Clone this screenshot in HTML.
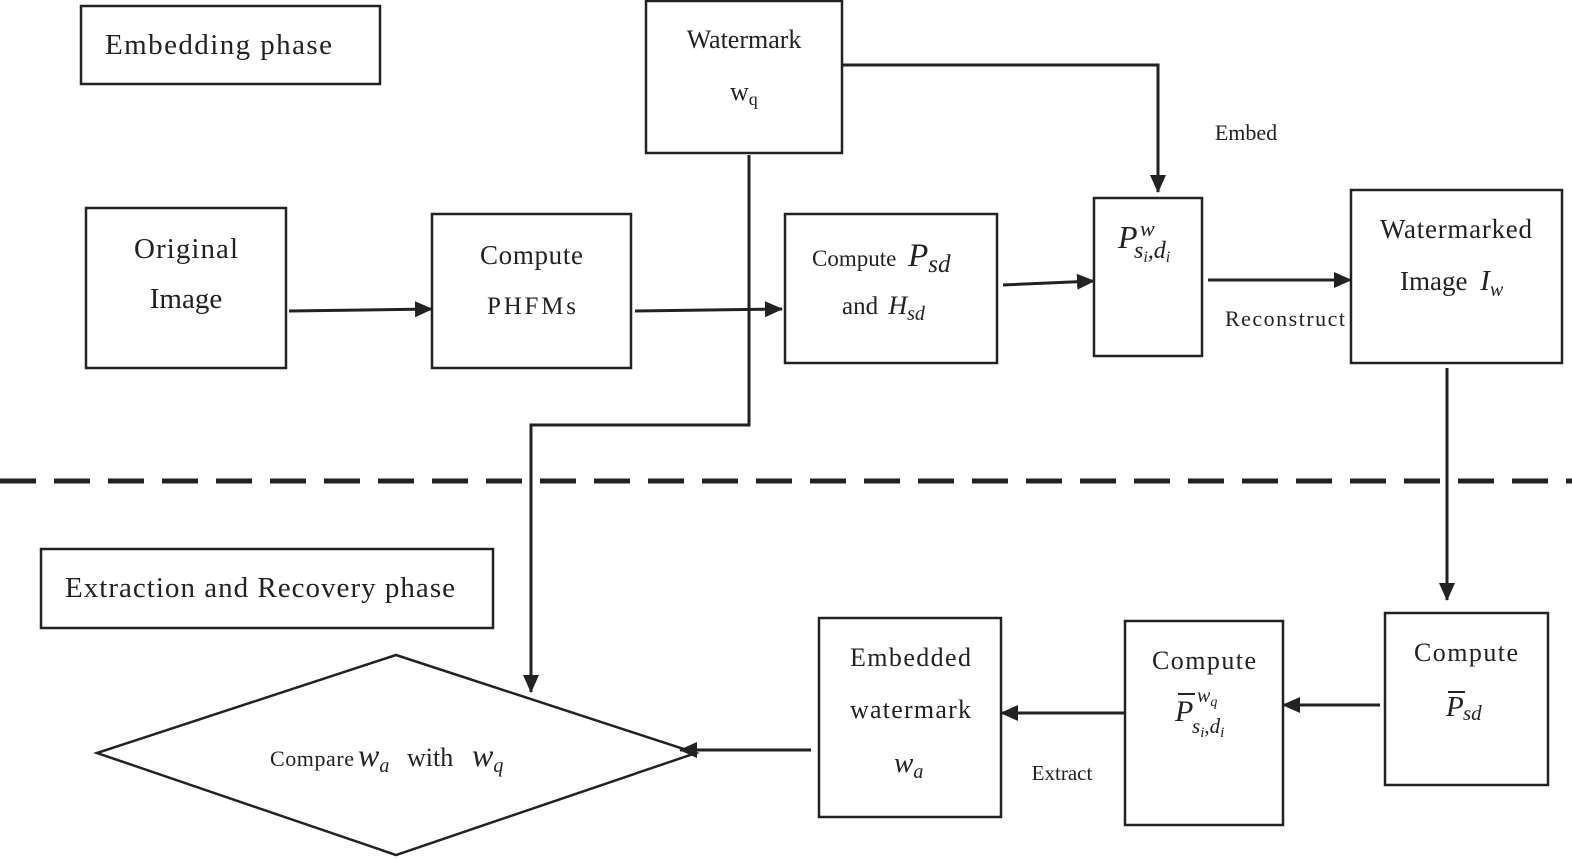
<!DOCTYPE html>
<html><head><meta charset="utf-8"><style>
html,body{margin:0;padding:0;background:#fff;}
svg{display:block;}
text{font-family:"Liberation Serif",serif;fill:#222;}
.i{font-style:italic;}
</style></head><body>
<svg width="1572" height="859" viewBox="0 0 1572 859" xmlns="http://www.w3.org/2000/svg">
<defs>
<marker id="b" markerWidth="18" markerHeight="18" refX="17" refY="9" orient="auto" markerUnits="userSpaceOnUse" viewBox="0 0 18 18"><path d="M0,1 L18,9 L0,17 z" fill="#222"/></marker></defs>
<g fill="none" stroke="#222" stroke-width="2.5">
<rect x="81" y="6" width="299" height="78"/>
<rect x="646" y="1" width="196" height="152"/>
<rect x="86" y="208" width="200" height="160"/>
<rect x="432" y="214" width="199" height="154"/>
<rect x="785" y="214" width="212" height="149"/>
<rect x="1094" y="198" width="108" height="158"/>
<rect x="1351" y="190" width="211" height="173"/>
<rect x="41" y="549" width="452" height="79"/>
<polygon points="97,753 396,655 696,753 396,855"/>
<rect x="819" y="618" width="182" height="199"/>
<rect x="1125" y="621" width="158" height="204"/>
<rect x="1385" y="613" width="163" height="172"/>
<g stroke-width="3">
<line x1="289" y1="311" x2="432" y2="309" marker-end="url(#b)"/>
<line x1="635" y1="311" x2="782" y2="309" marker-end="url(#b)"/>
<line x1="1003" y1="285" x2="1094" y2="281" marker-end="url(#b)"/>
<line x1="1208" y1="280" x2="1351" y2="280" marker-end="url(#b)"/>
<polyline points="842,65 1158,65 1158,192" marker-end="url(#b)"/>
<polyline points="749,155 749,425 531,425 531,692" marker-end="url(#b)"/>
<line x1="1447" y1="368" x2="1447" y2="600" marker-end="url(#b)"/>
<line x1="1380" y1="705" x2="1283" y2="705" marker-end="url(#b)"/>
<line x1="1125" y1="713" x2="1001" y2="713" marker-end="url(#b)"/>
<line x1="811" y1="750" x2="680" y2="750" marker-end="url(#b)"/>
</g>
<line x1="0" y1="481" x2="1572" y2="481" stroke-width="5" stroke-dasharray="36,18"/>
</g>
<text x="105" y="54" font-size="29" textLength="227">Embedding phase</text>
<text x="744" y="48" font-size="26" text-anchor="middle">Watermark</text>
<text x="730" y="100" font-size="26">w<tspan font-size="18" dy="5">q</tspan></text>
<text x="134" y="258" font-size="29" textLength="104">Original</text>
<text x="186" y="308" font-size="29" text-anchor="middle">Image</text>
<text x="480" y="264" font-size="27" textLength="103">Compute</text>
<text x="487" y="314" font-size="25" textLength="89">PHFMs</text>
<text x="812" y="266" font-size="23">Compute <tspan class="i" font-size="33" dx="6">P</tspan><tspan class="i" font-size="25" dy="6">sd</tspan></text>
<text x="842" y="314" font-size="25">and <tspan class="i" font-size="26" dx="4">H</tspan><tspan class="i" font-size="20" dy="6">sd</tspan></text>
<text x="1118" y="248" font-size="32" class="i">P</text>
<text x="1140" y="236" font-size="22" class="i">w</text>
<text x="1134" y="258" font-size="24" class="i">s<tspan font-size="16" dy="4">i</tspan><tspan dy="-4">,d</tspan><tspan font-size="16" dy="4">i</tspan></text>
<text x="1246" y="140" font-size="22" text-anchor="middle">Embed</text>
<text x="1225" y="326" font-size="22" textLength="120">Reconstruct</text>
<text x="1380" y="238" font-size="27" textLength="152">Watermarked</text>
<text x="1400" y="290" font-size="27">Image <tspan class="i" dx="6" font-size="29">I</tspan><tspan class="i" font-size="20" dy="6">w</tspan></text>
<text x="65" y="597" font-size="29" textLength="390">Extraction and Recovery phase</text>
<text x="270" y="766" font-size="22" textLength="84">Compare</text>
<text x="358" y="766" font-size="32" class="i">w<tspan font-size="20" dy="6">a</tspan></text>
<text x="407" y="766" font-size="26">with</text>
<text x="472" y="766" font-size="32" class="i">w<tspan font-size="20" dy="6">q</tspan></text>
<text x="850" y="666" font-size="26" textLength="121">Embedded</text>
<text x="850" y="718" font-size="26" textLength="121">watermark</text>
<text x="894" y="772" font-size="29" class="i">w<tspan font-size="20" dy="6">a</tspan></text>
<text x="1062" y="780" font-size="21" text-anchor="middle">Extract</text>
<text x="1152" y="669" font-size="26" textLength="104">Compute</text>
<text x="1175" y="721" font-size="30" class="i">P</text>
<line x1="1178" y1="694" x2="1195" y2="694" stroke="#222" stroke-width="2"/>
<text x="1197" y="702" font-size="20" class="i">w<tspan font-size="14" dy="4">q</tspan></text>
<text x="1192" y="733" font-size="21" class="i">s<tspan font-size="15" dy="4">i</tspan><tspan dy="-4">,d</tspan><tspan font-size="15" dy="4">i</tspan></text>
<text x="1414" y="661" font-size="26" textLength="104">Compute</text>
<text x="1446" y="716" font-size="29" class="i">P</text>
<line x1="1448" y1="692" x2="1465" y2="692" stroke="#222" stroke-width="2"/>
<text x="1463" y="720" font-size="21" class="i">sd</text>
</svg>
</body></html>
